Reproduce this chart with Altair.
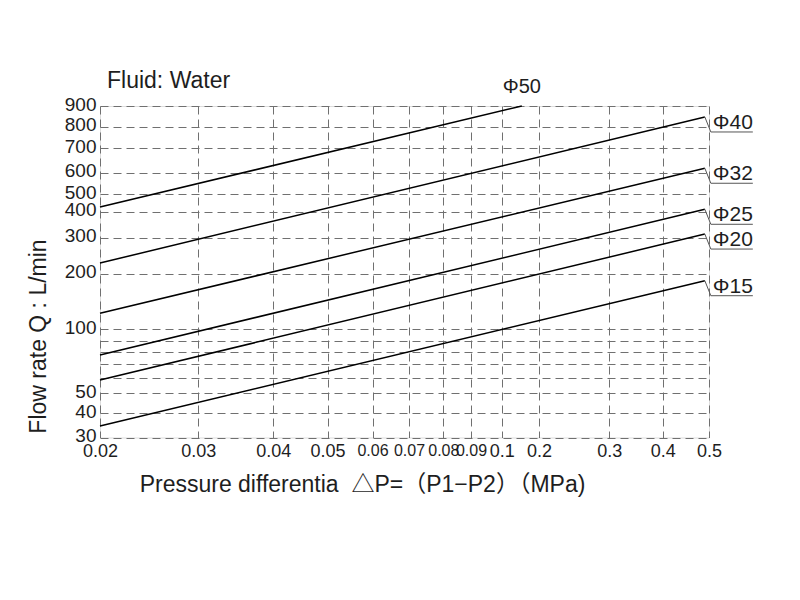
import altair as alt
import pandas as pd

# ---- data ----
sizes = ["Φ15", "Φ20", "Φ25", "Φ32", "Φ40", "Φ50"]
dp_start = [0.02, 0.02, 0.02, 0.02, 0.02, 0.02]
dp_end = [0.491, 0.491, 0.491, 0.491, 0.491, 0.154]
q_start = [34.7, 58.5, 77.6, 128.3, 229.3, 426.6]
q_end = [187, 314, 413.6, 618, 847, 900]

x_ticks = [0.02, 0.03, 0.04, 0.05, 0.06, 0.07, 0.08, 0.09, 0.1, 0.2, 0.3, 0.4, 0.5]
y_ticks = [30, 40, 50, 60, 70, 80, 90, 100, 200, 300, 400, 500, 600, 700, 800, 900]

fluid_note = ["Fluid: Water"]

# ---- scale geometry of the (hand-drawn) chart paper ----
W, H = 609, 331.5
x_range = [0, 98.3, 173.3, 227.5, 272.5, 309, 343.3, 371, 401.7, 439, 509.3, 562.7, 609]
y_range = [331.5, 307, 287, 271.7, 258.3, 246, 235, 223, 167.5, 131.7, 105.7, 88, 66.7, 42, 20.7, 0]

rows = []
for s, x0, x1, y0, y1 in zip(sizes, dp_start, dp_end, q_start, q_end):
    rows.append({"size": s, "dp": x0, "q": y0})
    rows.append({"size": s, "dp": x1, "q": y1})
lines_df = pd.DataFrame(rows)

ends_df = pd.DataFrame({"size": sizes, "dp": dp_end, "q": q_end})
right_df = ends_df[ends_df["size"] != "Φ50"]
top_df = ends_df[ends_df["size"] == "Φ50"]
note_df = pd.DataFrame({"note": fluid_note})

TEXT_FONT = "Liberation Sans, Arial, Noto Sans CJK SC, sans-serif"
INK = "#1e1e1e"

xs = alt.Scale(type="linear", domain=x_ticks, range=x_range, zero=False, nice=False)
ys = alt.Scale(type="linear", domain=y_ticks, range=y_range, zero=False, nice=False)

x_axis = alt.Axis(
    values=x_ticks, tickCount=40, format=".2~f",
    title="Pressure differentia\u00a0\u00a0△P=（P1−P2）（MPa)",
    labelOverlap=False, labelFlush=False, labelBound=False,
    labelFont=TEXT_FONT,
    labelFontSize={"condition": {"test": "datum.value >= 0.06 && datum.value <= 0.09", "value": 16},
                   "value": 18},
    labelColor=INK, labelPadding=5,
    titleFont=TEXT_FONT, titleFontSize=23, titleFontWeight="normal", titleColor=INK,
    titleX=262, titleY=54, titleAlign="center", titleBaseline="alphabetic",
    grid=True, gridDash=[8, 5], gridColor="#707070", gridWidth=1,
    domain=False, ticks=False,
)
y_axis = alt.Axis(
    values=y_ticks, tickCount=40, format="d",
    labelExpr="datum.value > 50 && datum.value < 100 ? '' : datum.label",
    labelOverlap=False, labelFlush=False, labelBound=False,
    labelFont=TEXT_FONT, labelFontSize=19, labelColor=INK, labelPadding=4, labelOffset=-2,
    title="Flow rate Q : L/min",
    titleFont=TEXT_FONT, titleFontSize=23, titleFontWeight="normal", titleColor=INK,
    titleX=-55, titleY=230, titleAngle=-90, titleAlign="center", titleBaseline="alphabetic",
    grid=True, gridDash=[8, 5], gridColor="#707070", gridWidth=1,
    domain=False, ticks=False,
)

lines = alt.Chart(lines_df).mark_line(color="black", strokeWidth=1.5).encode(
    x=alt.X("dp:Q", scale=xs, axis=x_axis),
    y=alt.Y("q:Q", scale=ys, axis=y_axis),
    detail="size:N",
)

leader = alt.Chart(right_df).mark_rule(
    color="#555", strokeWidth=1, x2Offset=6, y2Offset=15
).encode(x="dp:Q", y="q:Q", x2="dp:Q", y2="q:Q")

underline = alt.Chart(right_df).mark_rule(
    color="#555", strokeWidth=1, xOffset=6, x2Offset=48, yOffset=15, y2Offset=15
).encode(x="dp:Q", y="q:Q", x2="dp:Q", y2="q:Q")

right_labels = alt.Chart(right_df).mark_text(
    align="left", baseline="alphabetic", dx=8, dy=12,
    font=TEXT_FONT, fontSize=21, color=INK
).encode(x="dp:Q", y="q:Q", text="size:N")

top_label = alt.Chart(top_df).mark_text(
    align="center", baseline="alphabetic", dx=0, dy=-13,
    font=TEXT_FONT, fontSize=20, color=INK
).encode(x="dp:Q", y="q:Q", text="size:N")

note = alt.Chart(note_df).mark_text(
    align="left", baseline="alphabetic", font=TEXT_FONT, fontSize=23, color=INK
).encode(x=alt.value(7), y=alt.value(-18), text="note:N")

chart = alt.layer(lines, leader, underline, right_labels, top_label, note).properties(
    width=W, height=H,
    padding={"left": 100, "top": 106, "right": 91, "bottom": 162.5},
    autosize="none",
).configure_view(stroke="black", strokeWidth=1.5).configure(background="white")

chart.save("out.html", embed_options={"renderer": "svg", "actions": False})
